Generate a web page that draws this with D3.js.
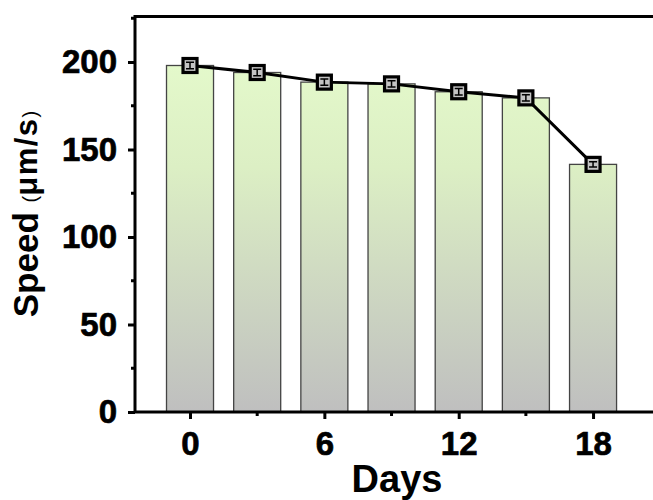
<!DOCTYPE html>
<html>
<head>
<meta charset="utf-8">
<script src="https://cdn.jsdelivr.net/npm/d3@7"></script>
<style>
  html, body { margin: 0; padding: 0; background: #fff; }
  svg { display: block; font-family: "Liberation Sans", Arial, sans-serif; }
</style>
</head>
<body>
<svg id="chart" width="653" height="500"></svg>
<script>
// Swimming speed measured over storage time
const days = [0, 3, 6, 9, 12, 15, 18];
const speed = [198, 194, 188.5, 187.5, 183, 179.5, 141.5];
const speedErr = [1.8, 1.8, 1.8, 1.8, 1.8, 1.8, 1.5];
const xTicks = [0, 6, 12, 18];
const xMinorTicks = [3, 9, 15];
const yTicks = [0, 50, 100, 150, 200];
const yMinorTicks = [25, 75, 125, 175, 225];

const svg = d3.select("#chart");
const plotLeft = 135, plotRight = 660, plotTop = 16.5, plotBottom = 412;

const x = d3.scaleLinear().domain([-2.457, 20.99]).range([plotLeft, plotRight]);
const y = d3.scaleLinear().domain([0, 226]).range([plotBottom, plotTop]);
const barW = x(2.1) - x(0);

// bar gradient: pale green at the top fading to grey
const defs = svg.append("defs");
const grad = defs.append("linearGradient")
  .attr("id", "barFill")
  .attr("gradientUnits", "userSpaceOnUse")
  .attr("x1", 0).attr("x2", 0)
  .attr("y1", y(200)).attr("y2", y(0));
grad.append("stop").attr("offset", "0%").attr("stop-color", "#e4f9cb");
grad.append("stop").attr("offset", "30%").attr("stop-color", "#dcefc4");
grad.append("stop").attr("offset", "100%").attr("stop-color", "#bfbfbf");

// bars
svg.append("g").selectAll("rect")
  .data(days)
  .join("rect")
  .attr("x", (d) => x(d) - barW / 2)
  .attr("width", barW)
  .attr("y", (d, i) => y(speed[i]))
  .attr("height", (d, i) => y(0) - y(speed[i]))
  .attr("fill", "url(#barFill)")
  .attr("stroke", "#444")
  .attr("stroke-width", 1.3);

// connecting line
const line = d3.line().x((d) => x(d)).y((d, i) => y(speed[i]));
svg.append("path")
  .datum(days)
  .attr("d", line)
  .attr("fill", "none")
  .attr("stroke", "#000")
  .attr("stroke-width", 3);

// square markers with error bars inside
const ms = 14;
const mk = svg.append("g").selectAll("g")
  .data(days)
  .join("g")
  .attr("transform", (d, i) => `translate(${x(d)},${y(speed[i])})`);
mk.append("rect")
  .attr("x", -ms / 2).attr("y", -ms / 2)
  .attr("width", ms).attr("height", ms)
  .attr("fill", "#c4c4c4")
  .attr("stroke", "#000")
  .attr("stroke-width", 3.2);
mk.append("path")
  .attr("d", (d, i) => {
    const e = y(speed[i] - speedErr[i]) - y(speed[i]);
    return `M-4,${-e}H4M0,${-e}V${e}M-4,${e}H4`;
  })
  .attr("fill", "none")
  .attr("stroke", "#000")
  .attr("stroke-width", 1.5);

// frame
svg.append("rect")
  .attr("x", plotLeft).attr("y", plotTop)
  .attr("width", plotRight - plotLeft).attr("height", plotBottom - plotTop)
  .attr("fill", "none")
  .attr("stroke", "#000")
  .attr("stroke-width", 3);

// heavy bold tick labels
function styleTickText(sel) {
  sel.attr("font-size", 33).attr("font-weight", "bold").attr("fill", "#000")
    .attr("stroke", "#000").attr("stroke-width", 0.7)
    .attr("font-family", "Liberation Sans, Arial, sans-serif");
}

// y axis
const yAxis = svg.append("g").attr("transform", `translate(${plotLeft},0)`);
yAxis.call(d3.axisLeft(y).tickValues(yTicks).tickSize(7).tickPadding(11))
  .call((g) => g.select(".domain").remove());
yAxis.selectAll(".tick line").attr("stroke-width", 3);
yAxis.selectAll(".tick text").call(styleTickText);
yAxis.append("g").selectAll("line")
  .data(yMinorTicks)
  .join("line")
  .attr("x1", -4).attr("x2", 0)
  .attr("y1", (d) => y(d)).attr("y2", (d) => y(d))
  .attr("stroke", "#000").attr("stroke-width", 3);

// x axis
const xAxis = svg.append("g").attr("transform", `translate(0,${plotBottom})`);
xAxis.call(d3.axisBottom(x).tickValues(xTicks).tickSize(7).tickPadding(13))
  .call((g) => g.select(".domain").remove());
xAxis.selectAll(".tick line").attr("stroke-width", 3);
xAxis.selectAll(".tick text").call(styleTickText);
xAxis.append("g").selectAll("line")
  .data(xMinorTicks)
  .join("line")
  .attr("x1", (d) => x(d)).attr("x2", (d) => x(d))
  .attr("y1", 0).attr("y2", 4)
  .attr("stroke", "#000").attr("stroke-width", 3);

// axis titles
svg.append("text")
  .attr("x", 397).attr("y", 492)
  .attr("text-anchor", "middle")
  .attr("font-size", 38).attr("font-weight", "bold")
  .text("Days");

const yt = svg.append("text")
  .attr("transform", "translate(38,214) rotate(-90)")
  .attr("text-anchor", "middle")
  .attr("font-size", 35).attr("font-weight", "bold");
yt.append("tspan").text("Speed ");
yt.append("tspan").attr("font-size", 20).attr("font-weight", "normal").attr("dy", -1).text("(");
yt.append("tspan").attr("font-size", 31).attr("letter-spacing", 1.5).text("μm/s");
yt.append("tspan").attr("font-size", 20).attr("font-weight", "normal").text(")");
</script>
</body>
</html>
